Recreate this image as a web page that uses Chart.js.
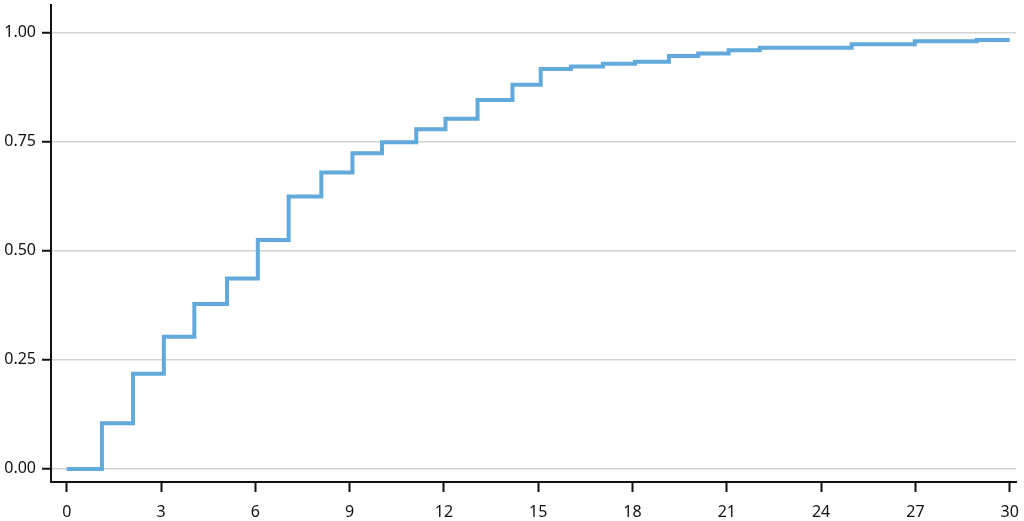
<!DOCTYPE html>
<html>
<head>
<meta charset="utf-8">
<script src="https://cdn.jsdelivr.net/npm/chart.js@4/dist/chart.umd.min.js"></script>
<style>
  html, body { margin: 0; padding: 0; background: #fff; }
  #wrap { width: 1024px; height: 521px; position: relative; }
</style>
</head>
<body>
<div id="wrap"><canvas id="c"></canvas></div>
<script>
const stepX = [0, 1.12, 2.11, 3.09, 4.06, 5.1, 6.08, 7.06, 8.1, 9.09, 10.03, 11.12, 12.05, 13.07, 14.18, 15.08, 16.04, 17.06, 18.08, 19.16, 20.09, 21.06, 22.05, 24.97, 26.98, 28.95, 30];
const stepY = [0, 0.105, 0.218, 0.303, 0.378, 0.437, 0.525, 0.625, 0.680, 0.724, 0.749, 0.779, 0.803, 0.846, 0.881, 0.917, 0.923, 0.929, 0.934, 0.947, 0.953, 0.960, 0.966, 0.974, 0.981, 0.984, 0.984];
const xTicks = [0, 3, 6, 9, 12, 15, 18, 21, 24, 27, 30];
const yTicks = [0, 0.25, 0.5, 0.75, 1.0];

const points = stepX.map((x, i) => ({ x: x, y: stepY[i] }));

new Chart(document.getElementById('c'), {
  type: 'line',
  data: {
    datasets: [{
      data: points,
      stepped: 'before',
      borderColor: '#62a9dc',
      borderWidth: 4,
      pointRadius: 0,
      fill: false,
      borderCapStyle: 'butt',
      borderJoinStyle: 'miter'
    }]
  },
  options: {
    responsive: true,
    maintainAspectRatio: false,
    animation: false,
    layout: { padding: { top: 5, right: 8, left: 0, bottom: 0 } },
    plugins: { legend: { display: false }, tooltip: { enabled: false } },
    scales: {
      x: {
        type: 'linear',
        min: -0.5,
        max: 30.2,
        afterBuildTicks: (s) => { s.ticks = xTicks.map(v => ({ value: v })); },
        afterFit: (s) => { s.height = 39; s.paddingLeft = 0; s.paddingRight = 0; },
        border: { display: true, color: '#111', width: 2 },
        grid: { drawOnChartArea: false, drawTicks: true, tickLength: 10, tickColor: '#111', tickWidth: 2 },
        ticks: { color: '#111', padding: 11, maxRotation: 0, autoSkip: false,
                 font: { family: 'Noto Sans', size: 16 } }
      },
      y: {
        type: 'linear',
        min: -0.03,
        max: 1.064,
        afterBuildTicks: (s) => { s.ticks = yTicks.map(v => ({ value: v })); },
        afterFit: (s) => { s.width = 51; s.paddingTop = 0; s.paddingBottom = 0; },
        border: { display: true, color: '#111', width: 2 },
        grid: { drawOnChartArea: true, color: '#d4d4d4', lineWidth: 1.5, drawTicks: true,
                tickLength: 9, tickColor: '#111', tickWidth: 2 },
        ticks: { color: '#111', padding: 6, autoSkip: false,
                 callback: (v) => Number(v).toFixed(2),
                 font: { family: 'Noto Sans', size: 16 } }
      }
    }
  }
});
</script>
</body>
</html>
